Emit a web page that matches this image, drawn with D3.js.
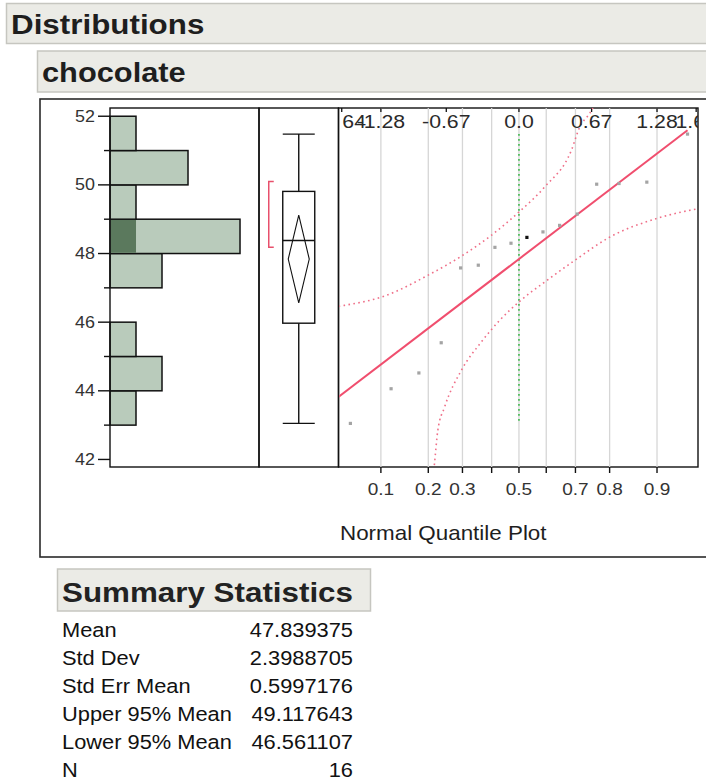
<!DOCTYPE html>
<html>
<head>
<meta charset="utf-8">
<script src="https://cdn.jsdelivr.net/npm/d3@7"></script>
<style>
  html, body { margin: 0; padding: 0; background: #ffffff; }
  svg { display: block; }
  text { font-family: "Liberation Sans", Arial, Helvetica, sans-serif; }
</style>
</head>
<body>
<svg id="chart" width="706" height="778"></svg>
<script>
// ---------------- DATA ----------------
const chocolateValues = [43.05, 44.06, 44.52, 45.40, 47.58, 47.66, 48.18, 48.30,
                         48.47, 48.63, 48.82, 49.15, 50.02, 50.04, 50.08, 51.48];
const selectedRank = 9;                       // the highlighted (black) point, 1-based rank
const binEdges = [43, 44, 45, 46, 47, 48, 49, 50, 51, 52];
const histTickMajor = [42, 44, 46, 48, 50, 52];
const histTickMinor = [43, 45, 47, 49, 51];
const boxQuantiles = [43.05, 45.97, 48.38, 49.81, 51.48];   // min, q1, median, q3, max
const shortestHalf = [48.18, 50.10];
const probTicks = [0.1, 0.2, 0.3, 0.4, 0.5, 0.6, 0.7, 0.8, 0.9];
const probLabels = ["0.1", "0.2", "0.3", "", "0.5", "", "0.7", "0.8", "0.9"];
const zTickValues = [-1.645, -1.2816, -0.6745, 0, 0.6745, 1.2816, 1.645];
const zTickLabels = ["-1.64", "-1.28", "-0.67", "0.0", "0.67", "1.28", "1.64"];
const upperBandZ = [-1.72, -1.62, -1.249, -0.849, -0.536, -0.257, 0, 0.239, 0.487, 0.565, 0.658, 0.72];
const upperBandV = [46.44, 46.49, 46.76, 47.36, 47.92, 48.53, 49.21, 49.94, 51.01, 51.69, 52.09, 52.45];
const lowerBandZ = [-0.80, -0.784, -0.753, -0.691, -0.536, -0.35, -0.18, 0, 0.239, 0.518, 0.844, 1.278, 1.70];
const lowerBandV = [41.40, 41.88, 42.85, 43.52, 44.59, 45.42, 46.05, 46.59, 47.17, 47.80, 48.48, 49.02, 49.33];
const summaryLabels = ["Mean", "Std Dev", "Std Err Mean", "Upper 95% Mean", "Lower 95% Mean", "N"];
const summaryValues = ["47.839375", "2.3988705", "0.5997176", "49.117643", "46.561107", "16"];

// ---------------- helpers ----------------
const SX = 1.12; // horizontal stretch of text seen in the reference
const svg = d3.select("#chart");
function txt(g, x, yy, s, size, opt = {}) {
  return g.append("text")
    .attr("transform", `translate(${x},${yy}) scale(${SX},1)`)
    .attr("text-anchor", opt.anchor || "start")
    .attr("font-size", size)
    .attr("font-weight", opt.bold ? "bold" : "normal")
    .attr("fill", opt.fill || "#1a1a1a")
    .text(s);
}
// inverse standard normal CDF (Acklam)
function qnorm(p) {
  const a = [-3.969683028665376e+01, 2.209460984245205e+02, -2.759285104469687e+02, 1.383577518672690e+02, -3.066479806614716e+01, 2.506628277459239e+00];
  const b = [-5.447609879822406e+01, 1.615858368580409e+02, -1.556989798598866e+02, 6.680131188771972e+01, -1.328068155288572e+01];
  const c = [-7.784894002430293e-03, -3.223964580411365e-01, -2.400758277161838e+00, -2.549732539343734e+00, 4.374664141464968e+00, 2.938163982698783e+00];
  const d = [7.784695709041462e-03, 3.224671290700398e-01, 2.445134137142996e+00, 3.754408661907416e+00];
  const pl = 0.02425, ph = 1 - pl;
  let qq, r;
  if (p < pl) {
    qq = Math.sqrt(-2 * Math.log(p));
    return (((((c[0]*qq+c[1])*qq+c[2])*qq+c[3])*qq+c[4])*qq+c[5]) / ((((d[0]*qq+d[1])*qq+d[2])*qq+d[3])*qq+1);
  } else if (p <= ph) {
    qq = p - 0.5; r = qq * qq;
    return (((((a[0]*r+a[1])*r+a[2])*r+a[3])*r+a[4])*r+a[5])*qq / (((((b[0]*r+b[1])*r+b[2])*r+b[3])*r+b[4])*r+1);
  } else {
    qq = Math.sqrt(-2 * Math.log(1 - p));
    return -(((((c[0]*qq+c[1])*qq+c[2])*qq+c[3])*qq+c[4])*qq+c[5]) / ((((d[0]*qq+d[1])*qq+d[2])*qq+d[3])*qq+1);
  }
}

// ---------------- headers ----------------
svg.append("rect").attr("x", 6.5).attr("y", 3.5).attr("width", 720).attr("height", 40)
  .attr("fill", "#ebebe6").attr("stroke", "#c6c6c0").attr("stroke-width", 1.5);
txt(svg, 11, 34, "Distributions", 28, { bold: true, fill: "#1e1e1e" });
svg.append("rect").attr("x", 37.5).attr("y", 51).attr("width", 690).attr("height", 41)
  .attr("fill", "#ebebe6").attr("stroke", "#c6c6c0").attr("stroke-width", 1.5);
txt(svg, 42, 82, "chocolate", 27.5, { bold: true, fill: "#1e1e1e" });

// outer frame
svg.append("rect").attr("x", 40).attr("y", 99).attr("width", 700).attr("height", 458)
  .attr("fill", "none").attr("stroke", "#2a2a2a").attr("stroke-width", 1.6);

// ---------------- scales ----------------
const pTop = 108, pBottom = 467;
const y = d3.scaleLinear().domain([41.78, 52.24]).range([pBottom, pTop]);
const histX = d3.scaleLinear().domain([0, 5.73]).range([110, 259]);
const boxX = d3.scaleBand().domain(["box"]).range([259, 338.5]).paddingInner(0).paddingOuter(0);
const zX = d3.scaleLinear().domain([-1.675, 1.662]).range([338.5, 698]);

// ---------------- histogram ----------------
const sorted = chocolateValues.slice().sort(d3.ascending);
const selectedValue = sorted[selectedRank - 1];
const bins = d3.bin().domain([binEdges[0], binEdges[binEdges.length - 1]])
  .thresholds(binEdges.slice(1, -1))(chocolateValues);
const hist = svg.append("g");
hist.selectAll("rect.bar").data(bins.filter(b => b.length > 0)).join("rect")
  .attr("class", "bar")
  .attr("x", histX(0)).attr("y", d => y(d.x1))
  .attr("width", d => histX(d.length) - histX(0)).attr("height", d => y(d.x0) - y(d.x1))
  .attr("fill", "#b9cbbb").attr("stroke", "#111").attr("stroke-width", 1.5);
hist.selectAll("rect.sel").data(bins.filter(b => b.includes(selectedValue))).join("rect")
  .attr("class", "sel")
  .attr("x", histX(0) + 0.75).attr("y", d => y(d.x1) + 0.75)
  .attr("width", histX(1) - histX(0) - 0.75).attr("height", d => y(d.x0) - y(d.x1) - 1.5)
  .attr("fill", "#5b795d");
// axis ticks
hist.selectAll("line.maj").data(histTickMajor).join("line")
  .attr("class", "maj")
  .attr("x1", 98).attr("x2", 110).attr("y1", d => y(d)).attr("y2", d => y(d))
  .attr("stroke", "#111").attr("stroke-width", 1.4);
hist.selectAll("line.min").data(histTickMinor).join("line")
  .attr("class", "min")
  .attr("x1", 104).attr("x2", 110).attr("y1", d => y(d)).attr("y2", d => y(d))
  .attr("stroke", "#111").attr("stroke-width", 1.4);
histTickMajor.forEach(v => txt(hist, 95, y(v) + 5.6, String(v), 16, { anchor: "end", fill: "#333" }));

// panel frames
const frames = svg.append("g");
[[110, 259], [259, 338.5], [338.5, 698]].forEach(([a, b]) => {
  frames.append("rect").attr("x", a).attr("y", pTop).attr("width", b - a).attr("height", pBottom - pTop)
    .attr("fill", "none").attr("stroke", "#111").attr("stroke-width", 1.4);
});

// ---------------- box plot ----------------
const bx = boxX("box") + boxX.bandwidth() / 2;
const bw = 16, dw = 10.5;
const meanV = +summaryValues[0], upperV = +summaryValues[3], lowerV = +summaryValues[4], sdV = +summaryValues[1];
const box = svg.append("g").attr("stroke", "#111").attr("stroke-width", 1.4).attr("fill", "none");
box.append("line").attr("x1", bx).attr("x2", bx).attr("y1", y(boxQuantiles[4])).attr("y2", y(boxQuantiles[3]));
box.append("line").attr("x1", bx).attr("x2", bx).attr("y1", y(boxQuantiles[1])).attr("y2", y(boxQuantiles[0]));
[boxQuantiles[0], boxQuantiles[4]].forEach(v => box.append("line")
  .attr("x1", bx - bw).attr("x2", bx + bw).attr("y1", y(v)).attr("y2", y(v)));
box.append("rect").attr("x", bx - bw).attr("y", y(boxQuantiles[3]))
  .attr("width", 2 * bw).attr("height", y(boxQuantiles[1]) - y(boxQuantiles[3]));
box.append("line").attr("x1", bx - bw).attr("x2", bx + bw)
  .attr("y1", y(boxQuantiles[2])).attr("y2", y(boxQuantiles[2]));
box.append("path").attr("d", `M${bx},${y(upperV)} L${bx + dw},${y(meanV)} L${bx},${y(lowerV)} L${bx - dw},${y(meanV)} Z`)
  .attr("stroke-width", 1.1);
// shortest half bracket
const brx = bx - 30;
svg.append("path")
  .attr("d", `M${brx + 5},${y(shortestHalf[1])} H${brx} V${y(shortestHalf[0])} H${brx + 5}`)
  .attr("fill", "none").attr("stroke", "#e8506c").attr("stroke-width", 1.5);

// ---------------- normal quantile plot ----------------
const defs = svg.append("defs");
defs.append("clipPath").attr("id", "qclip").append("rect")
  .attr("x", 339.3).attr("y", pTop).attr("width", 698 - 339.3).attr("height", pBottom - pTop);
defs.append("clipPath").attr("id", "lblclip").append("rect")
  .attr("x", 341.5).attr("y", pTop).attr("width", 698 - 341.5).attr("height", 40);
const q = svg.append("g").attr("clip-path", "url(#qclip)");
// grid lines
q.selectAll("line.grid").data(probTicks).join("line")
  .attr("class", "grid")
  .attr("x1", p => zX(qnorm(p))).attr("x2", p => zX(qnorm(p)))
  .attr("y1", pTop).attr("y2", pBottom)
  .attr("stroke", "#d6d6d6").attr("stroke-width", 1.3);
// top z labels & ticks
const lbl = svg.append("g").attr("clip-path", "url(#lblclip)");
zTickValues.forEach((z, i) => {
  q.append("line").attr("x1", zX(z)).attr("x2", zX(z)).attr("y1", pTop).attr("y2", pTop + 4)
    .attr("stroke", "#111").attr("stroke-width", 1.3);
  txt(lbl, zX(z), 128, zTickLabels[i], 19, { anchor: "middle", fill: "#2a2a2a" });
});
// green median reference line (min..max at z = 0)
q.append("line").attr("x1", zX(0)).attr("x2", zX(0))
  .attr("y1", y(d3.max(chocolateValues))).attr("y2", y(d3.min(chocolateValues)))
  .attr("stroke", "#3cb84a").attr("stroke-width", 1.6).attr("stroke-dasharray", "1.6,3.4");
// confidence bands
const bandLine = d3.line().x(d => zX(d[0])).y(d => y(d[1])).curve(d3.curveMonotoneX);
[[upperBandZ, upperBandV], [lowerBandZ, lowerBandV]].forEach(([zs, vs]) => {
  q.append("path").attr("d", bandLine(d3.zip(zs, vs)))
    .attr("fill", "none").attr("stroke", "#ef6f88").attr("stroke-width", 1.6)
    .attr("stroke-dasharray", "1.6,3.4");
});
// fitted normal line
const zMaxRank = qnorm(chocolateValues.length / (chocolateValues.length + 1));
q.append("line")
  .attr("x1", zX(-1.9)).attr("y1", y(meanV + sdV * -1.9))
  .attr("x2", zX(zMaxRank)).attr("y2", y(meanV + sdV * zMaxRank))
  .attr("stroke", "#f04e6e").attr("stroke-width", 2);
// points
const pts = sorted.map((v, i) => ({ v, z: qnorm((i + 1) / (sorted.length + 1)), sel: i + 1 === selectedRank }));
q.selectAll("rect.pt").data(pts).join("rect")
  .attr("class", "pt")
  .attr("x", d => zX(d.z) - 1.6).attr("y", d => y(d.v) - 1.6)
  .attr("width", 3.2).attr("height", 3.2)
  .attr("fill", d => d.sel ? "#111" : "#a4a4a4");
// bottom probability axis
const bAxis = svg.append("g");
probTicks.forEach((p, i) => {
  const x = zX(qnorm(p));
  bAxis.append("line").attr("x1", x).attr("x2", x).attr("y1", pBottom).attr("y2", pBottom + 6)
    .attr("stroke", "#111").attr("stroke-width", 1.4);
  if (probLabels[i]) txt(bAxis, x, 495, probLabels[i], 17, { anchor: "middle", fill: "#333" });
});
txt(svg, 340, 540, "Normal Quantile Plot", 20, { fill: "#1e1e1e" });

// ---------------- summary statistics ----------------
svg.append("rect").attr("x", 57.5).attr("y", 569).attr("width", 313).attr("height", 42)
  .attr("fill", "#ebebe6").attr("stroke", "#c6c6c0").attr("stroke-width", 1.5);
txt(svg, 62, 601.5, "Summary Statistics", 28, { bold: true, fill: "#222" });
summaryLabels.forEach((lab, i) => {
  const by = 636.5 + i * 28.1;
  txt(svg, 62, by, lab, 19.5, { fill: "#111" });
  txt(svg, 353, by, summaryValues[i], 19.5, { anchor: "end", fill: "#111" });
});
</script>
</body>
</html>
